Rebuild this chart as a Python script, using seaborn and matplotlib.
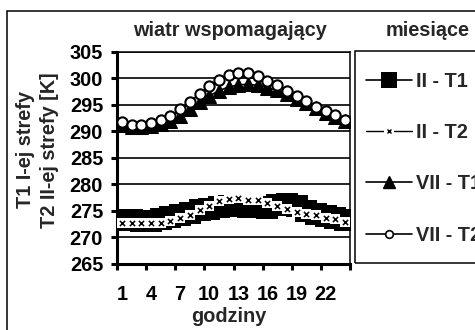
import numpy as np
import matplotlib
matplotlib.use("Agg")
import matplotlib.pyplot as plt
from matplotlib.lines import Line2D
from matplotlib.patches import Rectangle
import seaborn as sns

# hourly temperatures [K]
hours = list(range(1, 25))
ii_t1 = [273.3, 273.3, 273.2, 273.2, 273.5, 273.9, 274.3, 274.7, 275.1, 275.4, 275.7, 275.9,
         276.0, 275.8, 275.8, 275.6, 276.2, 276.3, 276.0, 275.0, 274.5, 274.1, 273.6, 273.3]
ii_t2 = [272.7, 272.7, 272.7, 272.7, 272.8, 273.2, 273.7, 274.3, 275.2, 275.9, 276.8, 277.2,
         277.4, 277.0, 277.0, 276.5, 275.9, 275.3, 274.9, 274.5, 274.3, 273.6, 273.4, 273.0]
vii_t1 = [291.2, 290.9, 290.8, 291.0, 291.4, 292.0, 293.0, 294.2, 295.5, 296.7, 297.7, 298.4,
          298.8, 298.9, 298.7, 298.3, 297.8, 297.0, 296.2, 295.3, 294.4, 293.5, 292.8, 291.9]
vii_t2 = [291.7, 291.3, 291.2, 291.6, 292.1, 292.9, 294.2, 295.6, 297.1, 298.5, 299.7, 300.6,
          301.0, 301.0, 300.5, 299.6, 298.8, 297.6, 296.7, 295.8, 294.7, 293.9, 293.1, 292.2]

series_labels = ["II - T1", "II - T2", "VII - T1", "VII - T2"]
hour_ticks = [1, 4, 7, 10, 13, 16, 19, 22]
y_ticks = [265, 270, 275, 280, 285, 290, 295, 300, 305]

sns.set_theme(style="white")
plt.rcParams["font.family"] = ["Liberation Sans", "DejaVu Sans"]
plt.rcParams["font.weight"] = "bold"
FS = 14.3

W, H = 475, 330
fig = plt.figure(figsize=(W / 100, H / 100), dpi=100)
fig.patch.set_facecolor("white")


def fx(px):
    return px / W


def fy(py):
    return 1 - py / H


ax = fig.add_axes([fx(117), fy(264), fx(350) - fx(117), fy(52) - fy(264)])
ax.set_facecolor("white")

# February: zone I squares, zone II crosses on white boxes
sns.lineplot(x=hours, y=ii_t1, ax=ax, color="black", lw=1.2, marker="s",
             markersize=16.5, markerfacecolor="black", markeredgewidth=0, zorder=3)
sns.lineplot(x=hours, y=ii_t2, ax=ax, color="black", lw=1.0, zorder=4)
sns.scatterplot(x=hours, y=ii_t2, ax=ax, marker="s", s=50, color="white",
                linewidth=0, zorder=5)
sns.scatterplot(x=hours, y=ii_t2, ax=ax, marker="x", s=14, color="black",
                linewidth=1.1, zorder=6)

# July: zone I triangles, zone II open circles
sns.lineplot(x=hours, y=vii_t1, ax=ax, color="black", lw=1.2, marker="^",
             markersize=9.5, markerfacecolor="black", markeredgecolor="black", zorder=3)
sns.lineplot(x=hours, y=vii_t2, ax=ax, color="black", lw=1.2, marker="o",
             markersize=7.4, markerfacecolor="white", markeredgecolor="black",
             markeredgewidth=1.5, zorder=4)

ax.set_xlim(0.5, 24.5)
ax.set_ylim(265, 305)
ax.set_yticks(y_ticks)
ax.set_xticks(hour_ticks)
ax.set_xticks(np.arange(0.5, 25, 3), minor=True)
ax.tick_params(axis="x", which="major", length=0, pad=15, labelsize=FS)
ax.tick_params(axis="x", which="minor", length=4, width=2.2, direction="out",
               bottom=True, color="black")
ax.tick_params(axis="y", which="major", length=4, width=2.2, pad=6, labelsize=FS,
               left=True, color="black", direction="out")
for lab in ax.get_xticklabels() + ax.get_yticklabels():
    lab.set_fontweight("bold")
    lab.set_color("black")

ax.yaxis.grid(True, color="black", lw=1.2)
ax.xaxis.grid(False)
ax.set_axisbelow(True)
for side in ("left", "bottom"):
    ax.spines[side].set_linewidth(2.2)
    ax.spines[side].set_color("black")
for side in ("top", "right"):
    ax.spines[side].set_linewidth(1.1)
    ax.spines[side].set_color("black")
ax.set_xlabel("")
ax.set_ylabel("")

# texts
fig.text(fx(230), fy(30), "wiatr wspomagający", ha="center", va="center",
         size=FS, weight="bold")
fig.text(fx(427.5), fy(30), "miesiące", ha="center", va="center", size=FS, weight="bold")
fig.text(fx(37.5), fy(150), "T1 I-ej strefy\nT2 II-ej strefy [K]", rotation=90,
         ha="center", va="center", multialignment="center", linespacing=1.38,
         size=FS, weight="bold")
fig.text(fx(228.5), fy(317), "godziny", ha="center", va="center", size=FS, weight="bold")

# legend
handles = [
    Line2D([], [], color="black", lw=1.2, marker="s", markersize=11,
           markerfacecolor="black", markeredgewidth=0),
    (Line2D([], [], color="black", lw=1.0, marker="s", markersize=7.3,
            markerfacecolor="white", markeredgewidth=0),
     Line2D([], [], ls="", marker="x", markersize=3.5, color="black", markeredgewidth=1.0)),
    Line2D([], [], color="black", lw=1.2, marker="^", markersize=9,
           markerfacecolor="black", markeredgecolor="black"),
    Line2D([], [], color="black", lw=1.2, marker="o", markersize=5.5,
           markerfacecolor="white", markeredgecolor="black", markeredgewidth=1.2),
]
fig.legend(handles=handles, labels=series_labels, loc="upper left",
           bbox_to_anchor=(fx(366), fy(72)), frameon=False, borderpad=0,
           borderaxespad=0, handlelength=2.3, handletextpad=0.2, labelspacing=1.62,
           numpoints=1, prop=dict(weight="bold", size=FS))

# frames
fig.add_artist(Rectangle((fx(355), fy(263)), fx(500) - fx(355), fy(51) - fy(263),
                         transform=fig.transFigure, fill=False, lw=1.1, ec="black"))
fig.add_artist(Rectangle((fx(7), fy(345)), fx(500) - fx(7), fy(11) - fy(345),
                         transform=fig.transFigure, fill=False, lw=1.1, ec="black"))

fig.savefig("out.png", dpi=100)
